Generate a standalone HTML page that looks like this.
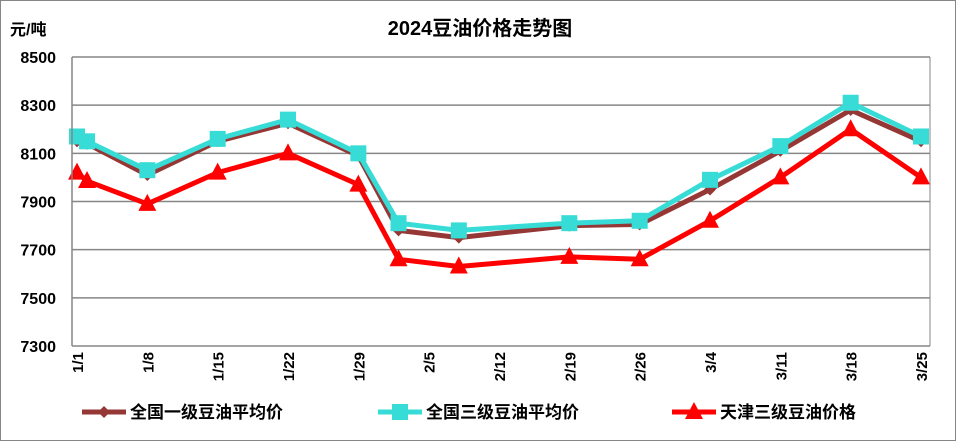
<!DOCTYPE html>
<html><head><meta charset="utf-8"><style>
body{margin:0;background:#fff;}
svg{display:block;font-family:"Liberation Sans","Noto Sans CJK SC",sans-serif;}
</style></head><body>
<svg id="chart" width="956" height="441">
<rect x="0.5" y="0.5" width="955" height="440" fill="#fff" stroke="#868686"/>
<text x="480" y="35" text-anchor="middle" font-size="20" font-weight="bold">2024豆油价格走势图</text>
<text x="10" y="35" font-size="16" font-weight="bold">元/吨</text>
<g id="grid"></g><g id="series"></g><g id="axes"></g>
<g id="legend"></g>
</svg>
<script>
const days=[0,1,7,14,21,28,32,38,49,56,63,70,77,84];
const tickDays=[0,7,14,21,28,35,42,49,56,63,70,77,84];
const tickLabels=["1/1","1/8","1/15","1/22","1/29","2/5","2/12","2/19","2/26","3/4","3/11","3/18","3/25"];
const yTicks=[7300,7500,7700,7900,8100,8300,8500];
const national1=[8150,8140,8010,8150,8225,8090,7780,7750,7800,7805,7950,8110,8280,8150];
const national3=[8170,8150,8030,8160,8240,8100,7810,7780,7810,7820,7990,8130,8310,8170];
const tianjin3=[8020,7985,7890,8020,8100,7970,7660,7630,7670,7660,7820,8000,8200,8000];
const seriesNames=["全国一级豆油平均价","全国三级豆油平均价","天津三级豆油价格"];
const X0=72,X1=921,Y0=346,Y1=57;
const xs=d=>77+(X1-77)*d/84;
const ys=v=>Y0-(v-7300)/(8500-7300)*(Y0-Y1);
const NS="http://www.w3.org/2000/svg";
function mk(t,a,p){const e=document.createElementNS(NS,t);for(const k in a)e.setAttribute(k,a[k]);p.appendChild(e);return e;}
const grid=document.getElementById('grid'),axes=document.getElementById('axes'),ser=document.getElementById('series'),leg=document.getElementById('legend');
yTicks.forEach(v=>{
 const l=mk('line',{x1:X0,x2:930,y1:ys(v),y2:ys(v),stroke:'#868686','stroke-width':1.5},grid);
 
 
 const t=mk('text',{x:56,y:ys(v)+6,'text-anchor':'end','font-size':16,'font-weight':'bold'},axes);
 t.textContent=v;
 
 
});
const ax=mk('line',{x1:X0,x2:X0,y1:Y1,y2:Y0,stroke:'#868686','stroke-width':1.5},axes);


const pr=mk('line',{x1:930,x2:930,y1:Y1,y2:Y0,stroke:'#868686','stroke-width':1},axes);


tickDays.forEach((d,i)=>{
 const x=xs(d);
 const t=mk('text',{x:0,y:0,'text-anchor':'end','font-size':15,'font-weight':'bold',transform:`translate(${x+6},352) rotate(-90)`},axes);
 t.textContent=tickLabels[i];
 
 
});
function marker(kind,x,y,color,p){
 if(kind==='diamond')return mk('polygon',{points:`${x},${y-6} ${x+6},${y} ${x},${y+6} ${x-6},${y}`,fill:color},p);
 if(kind==='square')return mk('rect',{x:x-8,y:y-8,width:16,height:16,fill:color},p);
 return mk('polygon',{points:`${x},${y-10} ${x+9},${y+7} ${x-9},${y+7}`,fill:color},p);
}
const defs=[[national1,'#953735','diamond',5,'series-national-grade1'],[national3,'#38DCD6','square',5,'series-national-grade3'],[tianjin3,'#FF0000','triangle',5,'series-tianjin-grade3']];
const order=[0,2,1];
order.forEach(si=>{
 const [vals,c,m,w,nm]=defs[si];
 const g=mk('g',{},ser);
 
 
 const pl=mk('polyline',{points:vals.map((v,i)=>xs(days[i])+','+ys(v)).join(' '),fill:'none',stroke:c,'stroke-width':w,'stroke-linejoin':'round'},g);
 
 
 vals.forEach((v,i)=>{
  const e=marker(m,xs(days[i]),ys(v),c,g);
  
  
 });
});
const lx=[82,378,672];
defs.forEach((d,i)=>{
 const g=mk('g',{},leg);
 
 
 mk('line',{x1:lx[i],x2:lx[i]+44,y1:412,y2:412,stroke:d[1],'stroke-width':5},g);
 marker(d[2],lx[i]+22,412,d[1],g);
 const t=mk('text',{x:lx[i]+48,y:418,'font-size':17,'font-weight':'bold'},g);
 t.textContent=seriesNames[i];
});
</script>
</body></html>
